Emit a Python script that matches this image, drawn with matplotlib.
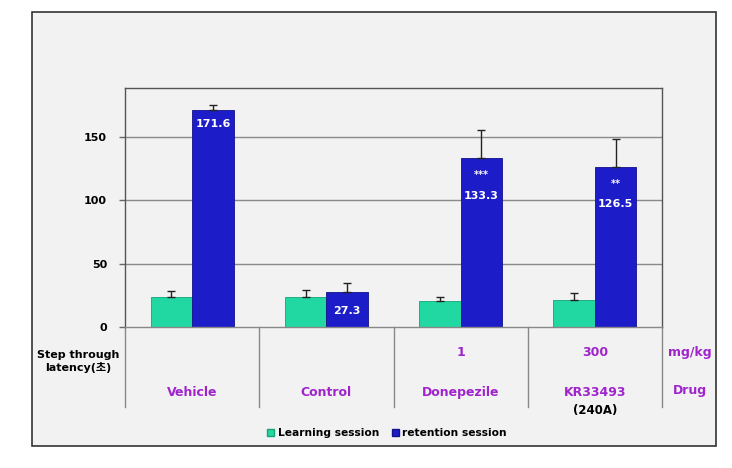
import matplotlib
matplotlib.use("Agg")
import matplotlib.pyplot as plt
from matplotlib.patches import Rectangle, Patch
import numpy as np

plt.rcParams['font.family'] = ['DejaVu Sans', 'Noto Sans CJK KR']

groups = ["Vehicle", "Control", "Donepezile", "KR33493"]
doses = ["", "", "1", "300"]
learning = [23.8, 23.5, 20.3, 21.1]
learning_err = [4.8, 5.3, 3.3, 5.2]
retention = [171.6, 27.3, 133.3, 126.5]
retention_err = [4.0, 7.3, 22.4, 22.0]
retention_labels = ["171.6", "27.3", "133.3", "126.5"]
signif = ["", "", "***", "**"]
yticks = [0, 50, 100, 150]

purple = '#A024CC'
green = '#22D8A2'
blue = '#1C1CC8'
bg = '#F2F2F2'

fig = plt.figure(figsize=(7.32, 4.68), dpi=100)
fig.patch.set_facecolor('white')
fig.patches.append(Rectangle((32/732, 1-446/468), (716-32)/732, (446-12)/468,
                             transform=fig.transFigure, facecolor=bg,
                             edgecolor='#333333', linewidth=1.2, zorder=-10))

ax = fig.add_axes([125/732, 1-326.7/468, (662-125)/732, (326.7-88)/468])
ax.set_facecolor(bg)
x = np.arange(len(groups))
w = 0.31
ax.set_xlim(-0.5, len(groups) - 0.5)
ax.set_ylim(0, 189)

for yv in yticks[1:]:
    ax.axhline(yv, color='#8a8a8a', linewidth=1.0, zorder=0)

ax.bar(x - w/2, learning, w, color=green, edgecolor='#14a37a', linewidth=0.6, zorder=2)
ax.bar(x + w/2, retention, w, color=blue, edgecolor='#12128a', linewidth=0.6, zorder=2)
ax.errorbar(x - w/2, learning, yerr=[np.zeros(len(x)), learning_err], fmt='none',
            ecolor='#222222', elinewidth=1, capsize=3, capthick=1, zorder=3)
ax.errorbar(x + w/2, retention, yerr=[np.zeros(len(x)), retention_err], fmt='none',
            ecolor='#222222', elinewidth=1, capsize=3, capthick=1, zorder=3)

for i in range(len(groups)):
    xi = x[i] + w/2
    if retention[i] > 60:
        if signif[i]:
            ax.annotate(signif[i], (xi, retention[i]), xytext=(0, -12), textcoords='offset points',
                        ha='center', va='center', color='white', fontsize=7, fontweight='bold', zorder=4)
            off = -27
        else:
            off = -10
        ax.annotate(retention_labels[i], (xi, retention[i]), xytext=(0, off), textcoords='offset points',
                    ha='center', va='center', color='white', fontsize=8, fontweight='bold', zorder=4)
    else:
        ax.text(xi, retention[i] * 0.45, retention_labels[i], ha='center', va='center',
                color='white', fontsize=8, fontweight='bold', zorder=4)

ax.set_yticks(yticks)
ax.set_yticklabels([str(t) for t in yticks], fontsize=8, fontweight='bold')
ax.tick_params(axis='y', length=4, width=1, color='#666666', pad=9)
ax.tick_params(axis='x', bottom=False, labelbottom=False)
for s in ['top', 'right', 'left']:
    ax.spines[s].set_color('#555555')
    ax.spines[s].set_linewidth(1.0)
ax.spines['bottom'].set_color('#888888')
ax.spines['bottom'].set_linewidth(1.0)

tr = ax.get_xaxis_transform()
tbl_bottom = -0.336
for xb in np.arange(-0.5, len(groups) + 0.5, 1.0):
    ax.plot([xb, xb], [0, tbl_bottom], transform=tr, color='#888888', linewidth=1.0, clip_on=False)

for i in range(len(groups)):
    if doses[i]:
        ax.text(x[i], -0.106, doses[i], transform=tr, ha='center', va='center',
                color=purple, fontsize=9, fontweight='bold')
    ax.text(x[i], -0.274, groups[i], transform=tr, ha='center', va='center',
            color=purple, fontsize=9, fontweight='bold')
ax.text(x[3], -0.35, "(240A)", transform=tr, ha='center', va='center',
        color='black', fontsize=8.5, fontweight='bold')
ax.text(3.71, -0.106, "mg/kg", transform=tr, ha='center', va='center',
        color=purple, fontsize=9, fontweight='bold')
ax.text(3.71, -0.268, "Drug", transform=tr, ha='center', va='center',
        color=purple, fontsize=9, fontweight='bold')
ax.text(-0.85, -0.146, "Step through\nlatency(초)", transform=tr, ha='center', va='center',
        color='black', fontsize=8, fontweight='bold', linespacing=1.3)

handles = [Patch(facecolor=green, edgecolor='#14a37a', label='Learning session'),
           Patch(facecolor=blue, edgecolor='#12128a', label='retention session')]
fig.legend(handles=handles, loc='center', bbox_to_anchor=(387/732, 1-433/468), ncol=2,
           frameon=False, prop={'size': 7.7, 'weight': 'bold'}, handlelength=0.7,
           handleheight=0.7, handletextpad=0.3, columnspacing=1.2)

fig.savefig('out.png', dpi=100)
